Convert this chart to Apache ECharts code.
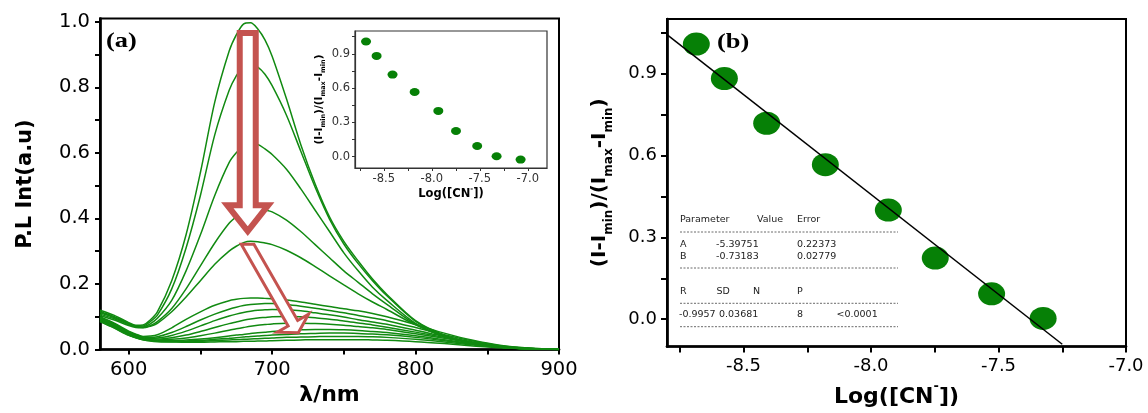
<!DOCTYPE html>
<html>
<head>
<meta charset="utf-8">
<script src="https://cdn.jsdelivr.net/npm/echarts@6/dist/echarts.min.js"></script>
<style>
  html, body { margin: 0; padding: 0; background: #fff; }
  #c { width: 1148px; height: 413px; }
</style>
</head>
<body>
<div id="c"></div>
<script>
// ---- (a) photoluminescence spectra ----
const wavelengths = [580,590,600,605,610,615,620,630,640,650,660,670,675,680,685,690,695,700,710,720,730,740,750,760,770,780,800,820,840,860,880,900];

const pl01 = [.120,.104,.082,.074,.075,.090,.115,.210,.350,.540,.755,.910,.960,.993,.997,.978,.945,.895,.765,.625,.505,.405,.330,.270,.215,.168,.088,.044,.020,.007,.002,.000];
const pl02 = [.116,.100,.080,.072,.072,.085,.105,.185,.310,.470,.655,.790,.835,.862,.869,.862,.840,.805,.715,.605,.495,.398,.322,.262,.210,.164,.086,.043,.020,.007,.002,.000];
const pl03 = [.112,.097,.078,.070,.069,.078,.095,.150,.240,.350,.470,.570,.600,.620,.629,.626,.612,.595,.550,.490,.425,.360,.295,.240,.190,.150,.080,.040,.019,.007,.002,.000];
const pl04 = [.108,.094,.076,.069,.067,.073,.085,.125,.185,.255,.325,.385,.405,.420,.428,.430,.426,.420,.395,.360,.320,.280,.240,.205,.170,.138,.077,.040,.018,.007,.002,.000];
const pl05 = [.104,.090,.073,.067,.066,.071,.080,.115,.160,.210,.260,.300,.315,.326,.330,.329,.325,.320,.303,.280,.253,.225,.197,.170,.145,.122,.075,.040,.018,.007,.002,.000];
const pl06 = [.100,.080,.056,.047,.040,.041,.045,.066,.092,.115,.135,.149,.153,.156,.157,.157,.156,.155,.151,.145,.138,.131,.124,.118,.110,.100,.076,.050,.028,.012,.004,.001];
const pl07 = [.098,.078,.054,.045,.038,.037,.039,.052,.070,.090,.108,.123,.129,.134,.137,.139,.140,.140,.137,.132,.126,.119,.112,.104,.096,.088,.067,.045,.026,.011,.004,.001];
const pl08 = [.096,.076,.052,.043,.036,.034,.035,.043,.056,.072,.088,.102,.108,.113,.117,.120,.121,.122,.121,.118,.112,.106,.099,.091,.084,.077,.059,.040,.023,.010,.003,.001];
const pl09 = [.094,.074,.050,.041,.034,.032,.032,.036,.044,.055,.067,.079,.084,.089,.093,.096,.098,.100,.101,.100,.097,.092,.087,.081,.075,.068,.053,.037,.021,.009,.003,.001];
const pl10 = [.092,.072,.048,.040,.033,.030,.029,.031,.035,.042,.050,.059,.063,.067,.071,.074,.076,.078,.080,.080,.079,.077,.074,.070,.066,.061,.048,.034,.020,.009,.003,.001];
const pl11 = [.090,.070,.046,.038,.032,.029,.027,.027,.029,.032,.036,.041,.044,.046,.049,.051,.053,.055,.058,.060,.061,.061,.060,.058,.055,.052,.042,.030,.018,.008,.003,.001];
const pl12 = [.088,.068,.045,.037,.031,.028,.026,.025,.026,.028,.031,.034,.036,.038,.040,.041,.043,.044,.046,.048,.049,.050,.050,.049,.047,.045,.037,.027,.016,.007,.002,.001];
const pl13 = [.086,.066,.044,.036,.030,.027,.025,.024,.024,.025,.027,.029,.030,.031,.032,.033,.034,.035,.037,.038,.039,.040,.040,.040,.039,.037,.031,.023,.014,.006,.002,.001];
const pl14 = [.085,.065,.043,.036,.030,.026,.024,.023,.022,.022,.023,.024,.024,.025,.025,.026,.026,.027,.028,.029,.030,.030,.030,.030,.029,.028,.024,.018,.011,.005,.002,.000];
const spectra = [pl01,pl02,pl03,pl04,pl05,pl06,pl07,pl08,pl09,pl10,pl11,pl12,pl13,pl14];

const wlLabels = [600, 700, 800, 900];
const wlTicks = [600, 650, 700, 750, 800, 850, 900];
const plLabels = [0, 0.2, 0.4, 0.6, 0.8, 1.0];
const plTicks = [0, 0.1, 0.2, 0.3, 0.4, 0.5, 0.6, 0.7, 0.8, 0.9, 1.0];

// quenching arrows, anchored in (wavelength, intensity)
const arrowDown = { from: [683, 0.966], to: [683, 0.361] };
const arrowDiag = { from: [682.9, 0.321], to: [718.3, 0.051] };

// ---- (b) normalised intensity vs log[CN-] ----
const logCN   = [-8.685, -8.575, -8.409, -8.179, -7.932, -7.748, -7.527, -7.325, -7.075];
const normInt = [ 1.008,  0.882,  0.718,  0.566,  0.400,  0.224,  0.093,  0.003, -0.026];
const fitPoints = 8;
const fitA = -5.39751, fitAErr = 0.22373;
const fitB = -0.73183, fitBErr = 0.02779;
const fitR = -0.9957, fitSD = 0.03681, fitP = '<0.0001';
const fitRange = [-8.8, -7.25];

const logLabels = [-8.5, -8.0, -7.5, -7.0];
const logTicks = [-8.75, -8.5, -8.25, -8.0, -7.75, -7.5, -7.25, -7.0];
const ratioLabels = [0, 0.3, 0.6, 0.9];
const ratioTicks = [0, 0.15, 0.3, 0.45, 0.6, 0.75, 0.9, 1.05];

// ---- styling ----
const SANS = '"DejaVu Sans", sans-serif';
const SERIF = '"Liberation Serif", "Times New Roman", serif';
const GREEN = '#118a11';
const DOT = '#068006';
const RED = '#c4534f';

function richTitle(fs, sub) {
  const lh = Math.round(fs * 1.5);
  return {
    t: { fontFamily: SANS, fontWeight: 'bold', fontSize: fs, lineHeight: lh, color: '#000' },
    s: { fontFamily: SANS, fontWeight: 'bold', fontSize: sub, lineHeight: lh, verticalAlign: 'bottom', color: '#000' },
    p: { fontFamily: SANS, fontWeight: 'bold', fontSize: sub, lineHeight: lh, verticalAlign: 'top', color: '#000' }
  };
}
const ratioName = '{t|(I-I}{s|min}{t|)/(I}{s|max}{t|-I}{s|min}{t|)}';
const logName = '{t|Log([CN}{p|-}{t|])}';

const fmt1 = v => Number(v).toFixed(1);

function axis(o) {
  return {
    type: 'value', gridIndex: o.grid, min: o.min, max: o.max,
    axisLine: { show: true, onZero: false, lineStyle: { color: o.color, width: o.lw } },
    axisTick: { show: true, inside: false, length: o.tl, customValues: o.ticks,
                lineStyle: { color: o.color, width: o.tw } },
    axisLabel: { show: true, customValues: o.labels, formatter: o.fmt, margin: o.margin,
                 color: o.color, fontFamily: SANS, fontSize: o.fs },
    splitLine: { show: false },
    name: o.name, nameLocation: 'middle', nameGap: o.gap, nameRotate: o.rot || 0,
    nameTextStyle: o.nts
  };
}

const chart = echarts.init(document.getElementById('c'));

const series = spectra.map(vals => ({
  type: 'line', xAxisIndex: 0, yAxisIndex: 0, smooth: 0.3, showSymbol: false, silent: true,
  lineStyle: { color: GREEN, width: 1.5 },
  data: wavelengths.map((w, i) => [w, vals[i]]), z: 2
}));

series.push({
  type: 'scatter', xAxisIndex: 1, yAxisIndex: 1, symbol: 'circle', symbolSize: [27, 23],
  itemStyle: { color: DOT, opacity: 1 }, z: 2,
  data: logCN.slice(0, fitPoints).map((x, i) => [x, normInt[i]])
});
series.push({
  type: 'line', xAxisIndex: 1, yAxisIndex: 1, showSymbol: false, z: 3,
  lineStyle: { color: '#000', width: 1.5 },
  data: fitRange.map(x => [x, fitA + fitB * x])
});
series.push({
  type: 'scatter', xAxisIndex: 2, yAxisIndex: 2, symbol: 'circle', symbolSize: [10, 8],
  itemStyle: { color: DOT, opacity: 1 }, z: 3,
  data: logCN.map((x, i) => [x, normInt[i]])
});

chart.setOption({
  animation: false,
  backgroundColor: '#fff',
  grid: [
    { left: 100, top: 18.5, width: 459, height: 331, show: true, borderColor: '#000', borderWidth: 2 },
    { left: 667, top: 19, width: 459, height: 331, show: true, borderColor: '#000', borderWidth: 2 },
    { left: 355, top: 31, width: 192, height: 137, show: true, borderColor: '#333', borderWidth: 1.2, backgroundColor: '#fff' }
  ],
  xAxis: [
    axis({ grid: 0, min: 580, max: 900, color: '#000', lw: 2.7, tl: 5, tw: 2, ticks: wlTicks, labels: wlLabels,
           fmt: v => String(v), margin: 10, fs: 19.5, name: 'λ/nm', gap: 27,
           nts: { fontFamily: SANS, fontWeight: 'bold', fontSize: 22, color: '#000' } }),
    axis({ grid: 1, min: -8.8, max: -7.0, color: '#000', lw: 2.7, tl: 6, tw: 2, ticks: logTicks, labels: logLabels,
           fmt: fmt1, margin: 11, fs: 18, name: logName, gap: 34,
           nts: { rich: richTitle(22, 13) } }),
    axis({ grid: 2, min: -8.8, max: -6.8, color: '#333', lw: 1.2, tl: 3, tw: 1, ticks: logTicks, labels: logLabels,
           fmt: fmt1, margin: 5, fs: 11.5, name: logName, gap: 18,
           nts: { rich: richTitle(11.5, 7) } })
  ],
  yAxis: [
    axis({ grid: 0, min: 0, max: 1.01, color: '#000', lw: 2.7, tl: 5, tw: 2, ticks: plTicks, labels: plLabels,
           fmt: fmt1, margin: 10, fs: 19.5, name: 'P.L Int(a.u)', gap: 64, rot: 90,
           nts: { fontFamily: SANS, fontWeight: 'bold', fontSize: 21, color: '#000' } }),
    axis({ grid: 1, min: -0.1, max: 1.1, color: '#000', lw: 2.7, tl: 6, tw: 2, ticks: ratioTicks, labels: ratioLabels,
           fmt: fmt1, margin: 10, fs: 18, name: ratioName, gap: 52, rot: 90,
           nts: { rich: richTitle(20, 12) } }),
    axis({ grid: 2, min: -0.1, max: 1.1, color: '#333', lw: 1.2, tl: 3, tw: 1, ticks: ratioTicks, labels: ratioLabels,
           fmt: fmt1, margin: 5, fs: 11.5, name: ratioName, gap: 28, rot: 90,
           nts: { rich: richTitle(10.5, 6.5) } })
  ],
  series: series
});

// hollow block arrow from tail to tip (pixel space); tail edge kept horizontal
function arrowPoints(p0, p1, w, h, L) {
  const dx = p1[0] - p0[0], dy = p1[1] - p0[1];
  const len = Math.hypot(dx, dy);
  const ux = dx / len, uy = dy / len;
  const nx = -uy, ny = ux;
  const bx = p1[0] - ux * L, by = p1[1] - uy * L;
  const tw = w / Math.abs(uy);
  return [
    [p0[0] - tw, p0[1]],
    [bx + nx * w, by + ny * w],
    [bx + nx * h, by + ny * h],
    [p1[0], p1[1]],
    [bx - nx * h, by - ny * h],
    [bx - nx * w, by - ny * w],
    [p0[0] + tw, p0[1]]
  ];
}

function px(gridIndex, pt) { return chart.convertToPixel({ gridIndex: gridIndex }, pt); }

const graphics = [];
const a1 = arrowPoints(px(0, arrowDown.from), px(0, arrowDown.to), 8, 20.5, 26);
graphics.push({ type: 'polygon', z: 50, shape: { points: a1 },
  style: { fill: '#fff', stroke: RED, lineWidth: 6, lineJoin: 'miter', miterLimit: 10 } });
const a2 = arrowPoints(px(0, arrowDiag.from), px(0, arrowDiag.to), 5.5, 18, 11);
graphics.push({ type: 'polygon', z: 50, shape: { points: a2 },
  style: { fill: '#fff', stroke: RED, lineWidth: 3, lineJoin: 'miter', miterLimit: 10 } });

// panel tags
graphics.push({ type: 'text', z: 60, x: 106, y: 41, scaleX: 1.2,
  style: { text: '(a)', font: 'bold 22px ' + SERIF, fill: '#000', align: 'left', verticalAlign: 'middle' } });
graphics.push({ type: 'text', z: 60, x: 717, y: 42, scaleX: 1.2,
  style: { text: '(b)', font: 'bold 22px ' + SERIF, fill: '#000', align: 'left', verticalAlign: 'middle' } });

// linear fit summary table
const tableCells = [
  ['Parameter', 680, 220], ['Value', 757, 220], ['Error', 797, 220],
  ['A', 680, 244.3], [String(fitA), 716, 244.3], [String(fitAErr), 797, 244.3],
  ['B', 680, 256.7], [String(fitB), 716, 256.7], [String(fitBErr), 797, 256.7],
  ['R', 680, 291.7], ['SD', 716.5, 291.7], ['N', 753, 291.7], ['P', 797, 291.7],
  [String(fitR), 679, 315], [String(fitSD), 719, 315], [String(fitPoints), 797, 315], [fitP, 836.5, 315]
];
tableCells.forEach(c => graphics.push({ type: 'text', z: 40, x: c[1], y: c[2],
  style: { text: c[0], font: '9.5px ' + SANS, fill: '#222', align: 'left', verticalAlign: 'middle' } }));
[232, 268, 303.3, 326.7].forEach(y => graphics.push({ type: 'line', z: 40,
  shape: { x1: 680, y1: y, x2: 898, y2: y },
  style: { stroke: '#444', lineWidth: 0.8, lineDash: [2, 1.5] } }));

chart.setOption({ graphic: graphics });
</script>
</body>
</html>
